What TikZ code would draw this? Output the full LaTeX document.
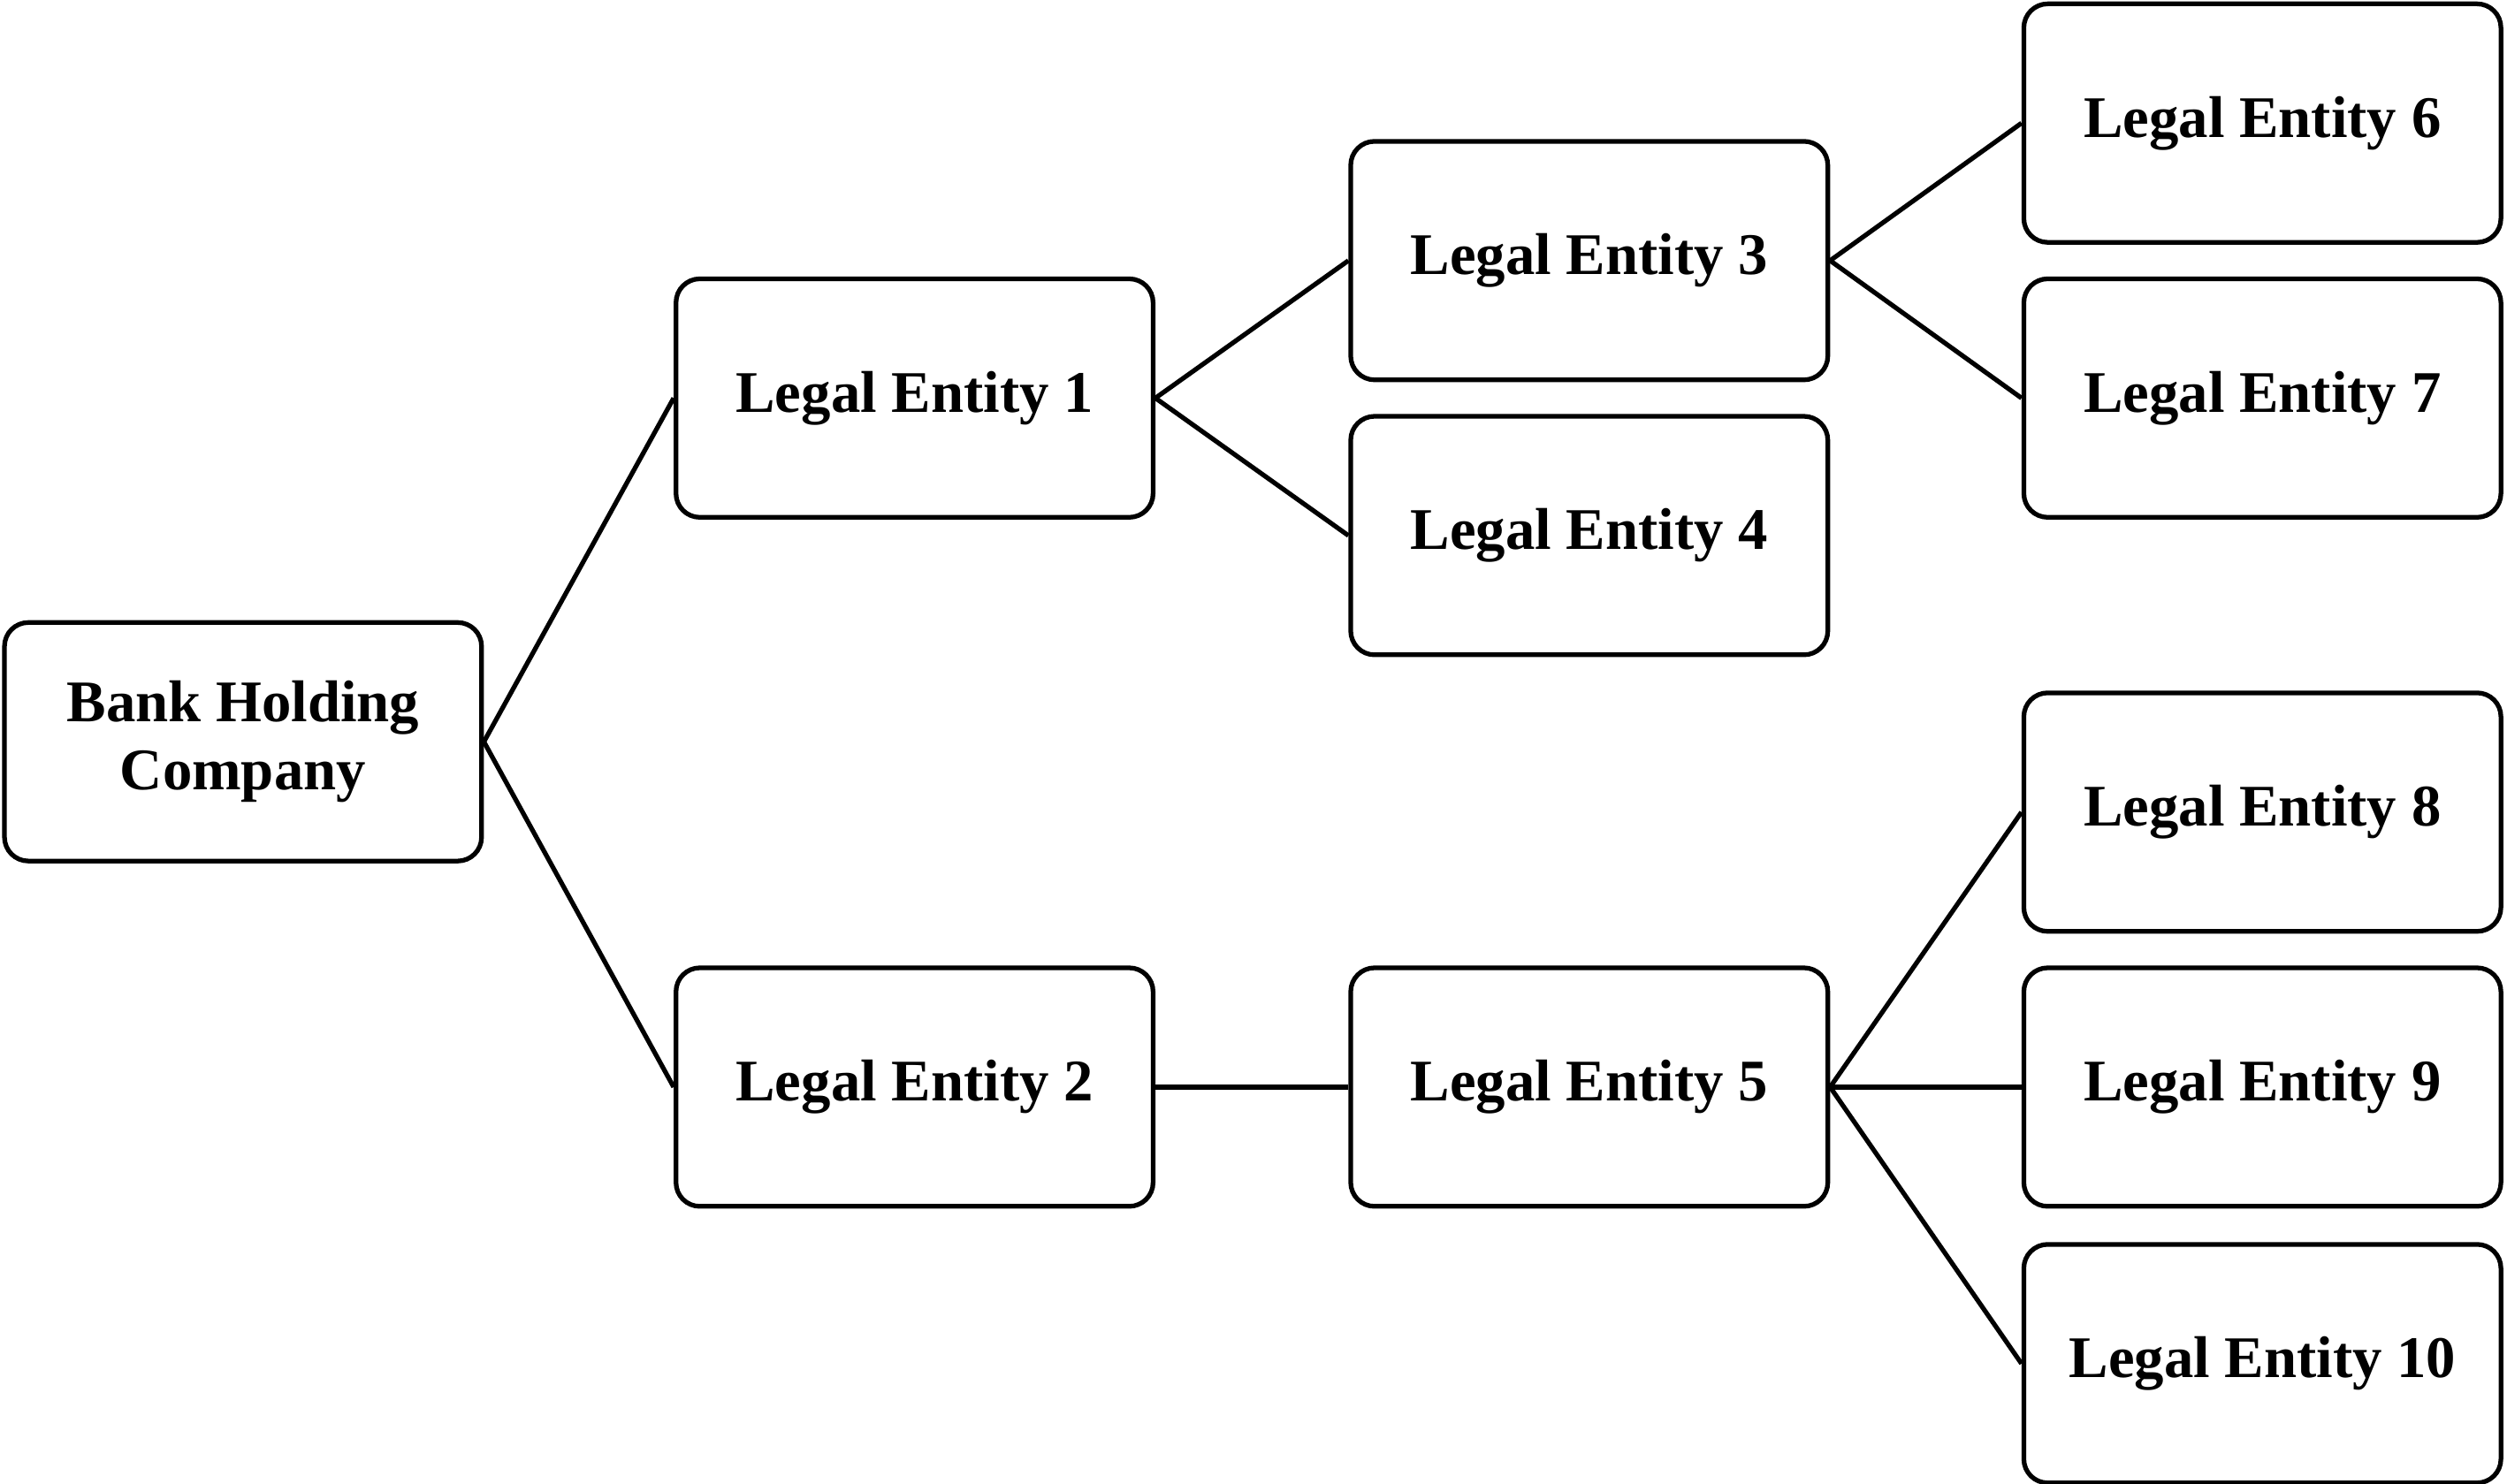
\documentclass[tikz,border=0pt]{standalone}
\usepackage{fontspec}
\setmainfont{Liberation Serif}
\usetikzlibrary{positioning}

\tikzset{
  entity/.style={draw=black, line width=1.5pt, rounded corners=0.27cm,
    minimum width=5.4cm, minimum height=2.7cm, align=center, inner sep=2pt,
    font=\fontsize{19}{22}\selectfont\bfseries},
  link/.style={draw=black, line width=1.5pt}
}

\begin{document}
\begin{tikzpicture}[x=0.01809cm, y=-0.01809cm]
\useasboundingbox (0,0) rectangle (1568,928);
\node[entity] (bhc) at (152,464) {Bank Holding\\Company};
\node[entity] (le1) at (572,249) {Legal Entity 1};
\node[entity] (le2) at (572,680) {Legal Entity 2};
\node[entity] (le3) at (994,163) {Legal Entity 3};
\node[entity] (le4) at (994,335) {Legal Entity 4};
\node[entity] (le5) at (994,680) {Legal Entity 5};
\node[entity] (le6) at (1415,77) {Legal Entity 6};
\node[entity] (le7) at (1415,249) {Legal Entity 7};
\node[entity] (le8) at (1415,508) {Legal Entity 8};
\node[entity] (le9) at (1415,680) {Legal Entity 9};
\node[entity] (le10) at (1415,853) {Legal Entity 10};
% connectors
\draw[link] (bhc.east) -- (le1.west);
\draw[link] (bhc.east) -- (le2.west);
\draw[link] (le1.east) -- (le3.west);
\draw[link] (le1.east) -- (le4.west);
\draw[link] (le2.east) -- (le5.west);
\draw[link] (le3.east) -- (le6.west);
\draw[link] (le3.east) -- (le7.west);
\foreach \n in {le8,le9,le10}
  \draw[link] (le5.east) -- (\n.west);
\end{tikzpicture}
\end{document}
